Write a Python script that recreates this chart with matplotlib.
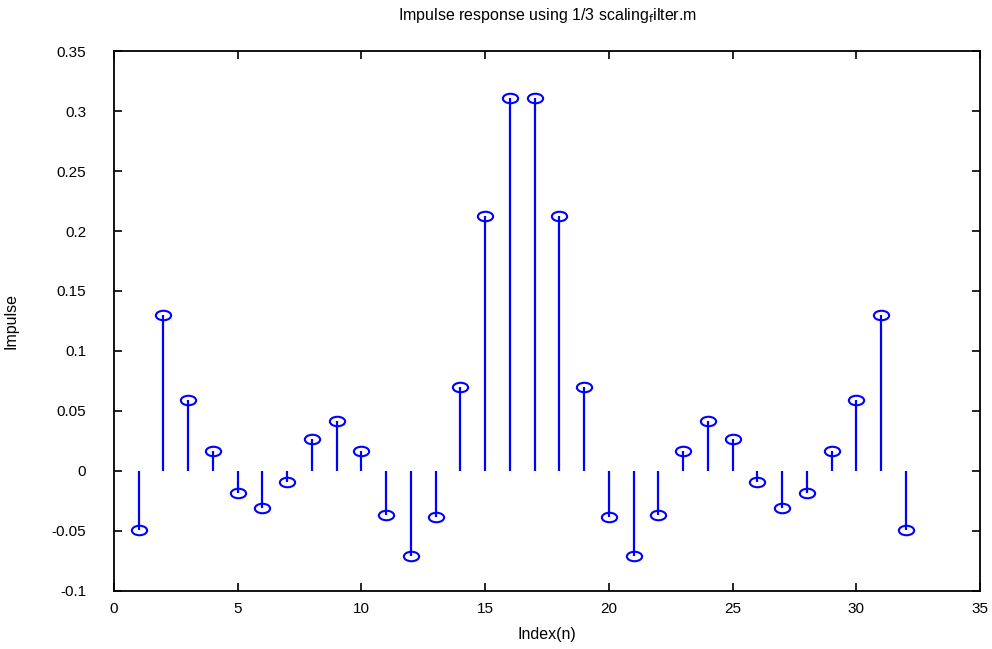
import numpy as np
import matplotlib
matplotlib.use('Agg')
import matplotlib.pyplot as plt
from matplotlib.path import Path

# impulse response values (symmetric filter)
indices = np.arange(1, 33)
impulse = [-0.049, 0.130, 0.059, 0.017, -0.018, -0.031, -0.009, 0.027,
           0.042, 0.017, -0.037, -0.071, -0.038, 0.070, 0.2125, 0.311,
           0.311, 0.2125, 0.070, -0.038, -0.071, -0.037, 0.017, 0.042,
           0.027, -0.009, -0.031, -0.018, 0.017, 0.059, 0.130, -0.049]

xticks = np.arange(0, 36, 5)
yticks = [-0.1, -0.05, 0, 0.05, 0.1, 0.15, 0.2, 0.25, 0.3, 0.35]
ytick_labels = ['-0.1', '-0.05', '0', '0.05', '0.1', '0.15', '0.2', '0.25', '0.3', '0.35']


def main():
    plt.rcParams['font.family'] = ['Liberation Sans', 'DejaVu Sans']

    # flattened circle, like the old MATLAB stem marker
    circ = Path.unit_circle()
    ellipse = Path(circ.vertices * np.array([1.0, 0.62]), circ.codes)

    fig = plt.figure(figsize=(9.92, 6.49), dpi=100)
    ax = fig.add_axes([0.1149, 0.0894, 0.8730, 0.8320])

    markerline, stemlines, baseline = ax.stem(indices, impulse, linefmt='b-', basefmt=' ')
    plt.setp(stemlines, color='#0000ff', linewidth=1.6)
    plt.setp(markerline, marker=ellipse, markersize=11, markerfacecolor='none',
             markeredgecolor='#0000ff', markeredgewidth=1.5)
    baseline.set_visible(False)

    ax.set_xlim(0, 35)
    ax.set_ylim(-0.1, 0.35)
    ax.set_xticks(xticks)
    ax.set_yticks(yticks)
    ax.set_yticklabels(ytick_labels)
    ax.tick_params(direction='in', length=6, width=1.2, top=True, right=True,
                   labelsize=11)
    ax.tick_params(axis='y', pad=20)
    ax.tick_params(axis='x', pad=8)
    for s in ax.spines.values():
        s.set_linewidth(1.3)

    ax.set_title(r'Impulse response using 1/3 scaling$_{\mathrm{f}}$ilter.m',
                 fontsize=11.5, pad=22)
    ax.set_xlabel('Index(n)', fontsize=11.5, labelpad=8)
    ax.set_ylabel('Impulse', fontsize=11.5, labelpad=24)

    fig.savefig('out.png', dpi=100)


if __name__ == '__main__':
    main()
